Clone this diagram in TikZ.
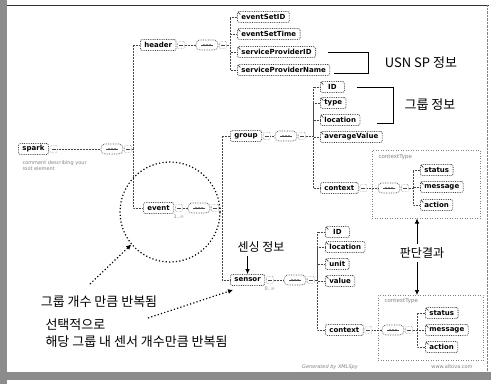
\documentclass[tikz,border=0pt]{standalone}
\usepackage{fontspec}
\setsansfont{DejaVu Sans}
\newfontfamily\kor{Noto Sans CJK KR}
\usetikzlibrary{positioning,arrows.meta}
\definecolor{scangray}{RGB}{70,70,70}
\definecolor{framegray}{RGB}{140,140,140}
\definecolor{notegray}{RGB}{130,130,130}

\begin{document}
\begin{tikzpicture}[
        x=1pt, y=-1pt,
        elem/.style={draw=scangray, densely dotted, line width=0.8pt, rounded corners=2pt,
            minimum height=11pt, inner xsep=4pt, inner ysep=1pt, anchor=west,
            font=\sffamily\bfseries\fontsize{7}{8}\selectfont},
        leaf/.style={elem, path picture={\draw[solid, scangray, line width=0.6pt]
            ([shift={(0.6pt,-0.6pt)}]path picture bounding box.north west) -- ++(2.4pt,-2.4pt);}},
        toggle/.style={draw=scangray, densely dotted, rounded corners=1pt, minimum size=7pt,
            inner sep=0pt, right=1pt of #1,
            path picture={\draw[solid, scangray]
                ([xshift=-2pt]path picture bounding box.center) -- ([xshift=2pt]path picture bounding box.center);}},
        seq/.style={draw=scangray, densely dotted, line width=0.7pt, rounded corners=4pt,
            minimum width=22pt, minimum height=10pt, inner sep=0pt,
            path picture={\draw[solid, scangray]
                ([xshift=-6pt]path picture bounding box.center) -- ([xshift=6pt]path picture bounding box.center);
                \foreach \d in {-3,0,3}
                    \fill[scangray] ([xshift=\d pt]path picture bounding box.center) circle (0.8pt);}},
        link/.style={draw=scangray, densely dotted, line width=0.5pt},
        ctbox/.style={draw=notegray, dotted, line width=0.5pt, anchor=north west, inner sep=0pt},
        ctlabel/.style={text=notegray, anchor=west, font=\sffamily\fontsize{5.5}{6}\selectfont},
        note/.style={text=notegray, font=\sffamily\fontsize{5}{6}\selectfont},
        hangul/.style={font=\kor\fontsize{12}{14}\selectfont},
        bracket/.style={draw=black, line width=0.7pt},
        pointer/.style={draw=black, line width=0.7pt, -{Latex[length=5pt,width=4.5pt]}},
        dotpointer/.style={draw=black, line width=1.2pt, dash pattern=on 1.2pt off 2.2pt,
            -{Latex[length=5pt,width=5pt]}}
    ]
    \useasboundingbox (0,0) rectangle (491,384);

    % frame of the scanned screenshot
    \fill[framegray] (0,0) rectangle (7,384);
    \fill[framegray] (7,372) rectangle (491,380);
    \draw[black!80, line width=0.8pt] (7,5) -- (489,5);
    \draw[notegray, densely dotted] (487,5) -- (487,372);

    % root element
    \node[elem] (spark) at (18,149) {spark};
    \node[toggle=spark] (sparkt) {};
    \node[note, anchor=north west, align=left] (sparkdoc) at (19,157) {comment describing your\\root element};
    \node[seq] (sparkseq) at (112,149) {};
    \node[toggle=sparkseq] (sparkseqt) {};
    \coordinate (rootbus) at (133,149);

    % header
    \node[elem] (header) at (140,45) {header};
    \node[toggle=header] (headert) {};
    \node[seq] (headerseq) at (207,45) {};
    \node[toggle=headerseq] (headerseqt) {};
    \coordinate (hbus) at (230,45);
    \node[leaf] (eventSetID) at (237,17) {eventSetID};
    \node[leaf] (eventSetTime) at (237,34) {eventSetTime};
    \node[leaf] (serviceProviderID) at (237,52) {serviceProviderID};
    \node[leaf] (serviceProviderName) at (237,70) {serviceProviderName};

    % event
    \node[elem] (event) at (143,208) {event};
    \node[toggle=event] (eventt) {};
    \node[note, anchor=north] (eventocc) at (eventt.south) {1..∞};
    \node[seq] (eventseq) at (199,208) {};
    \node[toggle=eventseq] (eventseqt) {};
    \coordinate (ebus) at (222,208);

    % group
    \node[elem] (group) at (230,136) {group};
    \node[toggle=group] (groupt) {};
    \node[seq] (groupseq) at (286,136) {};
    \node[toggle=groupseq] (groupseqt) {};
    \coordinate (gbus) at (313,136);
    \node[leaf, minimum width=24pt] (gID) at (320,87) {ID};
    \node[leaf] (gtype) at (320,103) {type};
    \node[leaf] (glocation) at (320,120) {location};
    \node[leaf] (gaverage) at (320,137) {averageValue};
    \node[elem] (gcontext) at (320,188) {context};
    \node[toggle=gcontext] (gcontextt) {};
    \node[ctbox, minimum width=108pt, minimum height=68pt] (gctype) at (372,150) {};
    \node[ctlabel] (gctlabel) at (375,157) {contextType};
    \node[seq] (gctxseq) at (389,188) {};
    \node[toggle=gctxseq] (gctxseqt) {};
    \coordinate (gcbus) at (413,188);
    \node[leaf] (gstatus) at (420,170) {status};
    \node[leaf] (gmessage) at (420,187) {message};
    \node[leaf] (gaction) at (420,205) {action};

    % sensor
    \node[elem] (sensor) at (230,280) {sensor};
    \node[toggle=sensor] (sensort) {};
    \node[note, anchor=north] (sensorocc) at (sensort.south) {0..∞};
    \node[seq] (sensorseq) at (295,280) {};
    \node[toggle=sensorseq] (sensorseqt) {};
    \coordinate (sbus) at (317,280);
    \node[leaf, minimum width=24pt] (sID) at (325,232) {ID};
    \node[leaf] (slocation) at (325,247) {location};
    \node[leaf] (sunit) at (325,264) {unit};
    \node[leaf] (svalue) at (325,281) {value};
    \node[elem] (scontext) at (325,330) {context};
    \node[toggle=scontext] (scontextt) {};
    \node[ctbox, minimum width=105pt, minimum height=65pt] (sctype) at (378,295) {};
    \node[ctlabel] (sctlabel) at (381,301) {contextType};
    \node[seq] (sctxseq) at (393,330) {};
    \node[toggle=sctxseq] (sctxseqt) {};
    \coordinate (scbus) at (417,330);
    \node[leaf] (sstatus) at (425,313) {status};
    \node[leaf] (smessage) at (425,330) {message};
    \node[leaf] (saction) at (425,347) {action};

    % tree connectors
    \draw[link] (sparkt.east) -- (sparkseq.west);
    \draw[link] (sparkseqt.east) -- (rootbus) |- (header.west);
    \draw[link] (rootbus) |- (event.west);
    \draw[link] (headert.east) -- (headerseq.west);
    \draw[link] (headerseqt.east) -- (hbus) |- (eventSetID.west);
    \draw[link] (hbus) |- (eventSetTime.west);
    \draw[link] (hbus) |- (serviceProviderID.west);
    \draw[link] (hbus) |- (serviceProviderName.west);
    \draw[link] (eventt.east) -- (eventseq.west);
    \draw[link] (eventseqt.east) -- (ebus) |- (group.west);
    \draw[link] (ebus) |- (sensor.west);
    \draw[link] (groupt.east) -- (groupseq.west);
    \draw[link] (groupseqt.east) -- (gbus) |- (gID.west);
    \draw[link] (gbus) |- (gtype.west);
    \draw[link] (gbus) |- (glocation.west);
    \draw[link] (gbus) |- (gaverage.west);
    \draw[link] (gbus) |- (gcontext.west);
    \draw[link] (gcontextt.east) -- (gctxseq.west);
    \draw[link] (gctxseqt.east) -- (gcbus) |- (gstatus.west);
    \draw[link] (gcbus) |- (gmessage.west);
    \draw[link] (gcbus) |- (gaction.west);
    \draw[link] (sensort.east) -- (sensorseq.west);
    \draw[link] (sensorseqt.east) -- (sbus) |- (sID.west);
    \draw[link] (sbus) |- (slocation.west);
    \draw[link] (sbus) |- (sunit.west);
    \draw[link] (sbus) |- (svalue.west);
    \draw[link] (sbus) |- (scontext.west);
    \draw[link] (scontextt.east) -- (sctxseq.west);
    \draw[link] (sctxseqt.east) -- (scbus) |- (sstatus.west);
    \draw[link] (scbus) |- (smessage.west);
    \draw[link] (scbus) |- (saction.west);

    % annotations
    \node[hangul, font=\kor\fontsize{13}{15}\selectfont] (usnsp) at (421,63) {USN SP 정보};
    \draw[bracket] ([xshift=12pt]serviceProviderID.east) -| (368,73) -- ([xshift=4pt]serviceProviderName.east |- 0,73);
    \node[hangul, font=\kor\fontsize{13}{15}\selectfont] (groupinfo) at (430,105) {그룹 정보};
    \draw[bracket] ([xshift=12pt]gID.east) -| (393,123) -- (377,123);
    \node[hangul] (sensing) at (261,247) {센싱 정보};
    \draw[pointer] (sensing.south -| sensor.north) -- (sensor.north);
    \node[hangul] (judge) at (422,253) {판단결과};
    \draw[pointer] ([xshift=-5pt]judge.north) -- ([xshift=-5pt]judge.north |- gctype.south);
    \draw[pointer] ([xshift=-5pt]judge.south) -- ([xshift=-5pt]judge.south |- sctype.north);

    \node[draw=black, line width=1.2pt, dash pattern=on 1.2pt off 2.2pt, circle,
        minimum size=100pt] (repeat) at (170,212) {};
    \node[hangul, font=\kor\fontsize{13}{15}\selectfont] (grpnote) at (99,302) {그룹 개수 만큼 반복됨};
    \coordinate (grpfrom) at (90,284);
    \draw[dotpointer] (grpfrom) -- (repeat.220);
    \node[hangul, font=\kor\fontsize{13}{17}\selectfont, anchor=north west, align=left] (optnote) at (42,315)
        {선택적으로\\해당 그룹 내 센서 개수만큼 반복됨};
    \coordinate (optfrom) at (148,318);
    \draw[dotpointer] (optfrom) -- ([shift={(3pt,-4pt)}]sensor.south west);

    % footer
    \node[note, font=\sffamily\itshape\fontsize{5}{6}\selectfont] (generated) at (330,367) {Generated by XMLSpy};
    \node[note] (altova) at (452,367) {www.altova.com};
\end{tikzpicture}
\end{document}
